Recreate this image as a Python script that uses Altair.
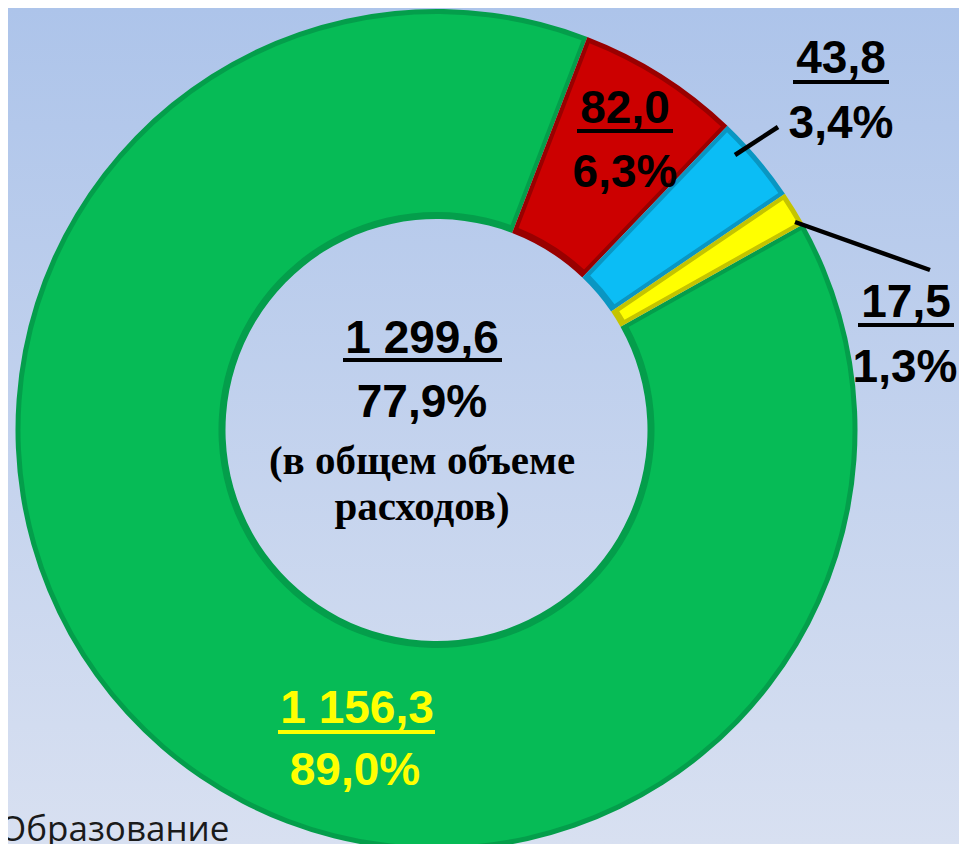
import math
import altair as alt
import pandas as pd

# ---- data ----
categories = ["Образование", "Социальная политика", "Культура", "Физическая культура и спорт"]
values = [1156.3, 82.0, 43.8, 17.5]
shares = [89.0, 6.3, 3.4, 1.3]
draw_order = [3, 0, 1, 2]
main_colors = ["#06bb56", "#cc0000", "#0bbdf5", "#ffff00"]
dark_colors = ["#049e4b", "#990000", "#0a96c2", "#c4c400"]
center_share = 77.9
legend_label = "Образование"


def fmt_num(v):
    return f"{v:,.1f}".replace(",", " ").replace(".", ",")


def fmt_pct(v):
    return f"{v:.1f}".replace(".", ",") + "%"


# ---- layout ----
W, H = 951, 836
CX, CY = 428.5, 422
R_OUT, R_IN = 421, 211
A0 = math.radians(21)

df = pd.DataFrame({
    "category": categories,
    "value": values,
    "order": draw_order,
    "main": main_colors,
    "dark": dark_colors,
})

theta = alt.Theta("value:Q", stack=True, scale=alt.Scale(range=[A0, A0 + 2 * math.pi]))

bg = alt.Chart(pd.DataFrame({"a": [0]})).mark_rect(
    fill=alt.LinearGradient(
        gradient="linear",
        stops=[alt.GradientStop(color="#adc4ea", offset=0),
               alt.GradientStop(color="#d8e0f1", offset=1)],
        x1=0, x2=0, y1=0, y2=1,
    )
).encode(x=alt.value(0), x2=alt.value(W), y=alt.value(0), y2=alt.value(H))

arc_dark = alt.Chart(df).mark_arc(radius=R_OUT, radius2=R_IN).encode(
    theta=theta,
    order=alt.Order("order:Q"),
    color=alt.Color("dark:N", scale=None),
    x=alt.value(CX), y=alt.value(CY),
)

arc_main = alt.Chart(df).mark_arc(radius=R_OUT - 5, radius2=R_IN + 7, padAngle=0.018).encode(
    theta=theta,
    order=alt.Order("order:Q"),
    color=alt.Color("main:N", scale=None),
    x=alt.value(CX), y=alt.value(CY),
)

# slice & centre labels (black, bold sans)
black_labels = pd.DataFrame({
    "text": [fmt_num(values[1]), fmt_pct(shares[1]),
             fmt_num(values[2]), fmt_pct(shares[2]),
             fmt_num(values[3]), fmt_pct(shares[3]),
             fmt_num(sum(values)), fmt_pct(center_share)],
    "x": [617, 617, 833, 833, 898, 897, 414, 414],
    "y": [115, 179, 65, 130, 309, 374, 345, 409],
})
t_black = alt.Chart(black_labels).mark_text(
    font="Liberation Sans", fontWeight="bold", fontSize=46, color="black",
    align="center", baseline="alphabetic",
).encode(x=alt.X("x:Q", scale=None), y=alt.Y("y:Q", scale=None), text="text:N")

yellow_labels = pd.DataFrame({
    "text": [fmt_num(values[0]), fmt_pct(shares[0])],
    "x": [349, 347],
    "y": [715, 777],
})
t_yellow = alt.Chart(yellow_labels).mark_text(
    font="Liberation Sans", fontWeight="bold", fontSize=46, color="#ffff00",
    align="center", baseline="alphabetic",
).encode(x=alt.X("x:Q", scale=None), y=alt.Y("y:Q", scale=None), text="text:N")

serif_labels = pd.DataFrame({
    "text": ["(в общем объеме", "расходов)"],
    "x": [414, 414],
    "y": [466, 512],
})
t_serif = alt.Chart(serif_labels).mark_text(
    font="Liberation Serif", fontWeight="bold", fontSize=41, color="black",
    align="center", baseline="alphabetic",
).encode(x=alt.X("x:Q", scale=None), y=alt.Y("y:Q", scale=None), text="text:N")

# underlines
ul_black = pd.DataFrame({
    "x": [569, 785, 850, 335],
    "x2": [665, 881, 946, 494],
    "y": [123, 74, 317, 352],
})
r_black = alt.Chart(ul_black).mark_rule(strokeWidth=4, color="black").encode(
    x=alt.X("x:Q", scale=None), x2="x2:Q", y=alt.Y("y:Q", scale=None))

ul_yellow = pd.DataFrame({"x": [270], "x2": [427], "y": [724]})
r_yellow = alt.Chart(ul_yellow).mark_rule(strokeWidth=4, color="#ffff00").encode(
    x=alt.X("x:Q", scale=None), x2="x2:Q", y=alt.Y("y:Q", scale=None))

# leader lines
leaders = pd.DataFrame({
    "x": [727, 787], "y": [147, 214],
    "x2": [770, 922], "y2": [119, 262],
})
r_lead = alt.Chart(leaders).mark_rule(strokeWidth=4.5, color="black").encode(
    x=alt.X("x:Q", scale=None), y=alt.Y("y:Q", scale=None), x2="x2:Q", y2="y2:Q")

legend = alt.Chart(pd.DataFrame({"text": [legend_label]})).mark_text(
    font="Open Sans", fontSize=35, color="#1a1a1a", align="left", baseline="alphabetic",
).encode(x=alt.value(-9), y=alt.value(833), text="text:N")

chart = alt.layer(
    bg, arc_dark, arc_main, t_black, t_yellow, t_serif, r_black, r_yellow, r_lead, legend
).properties(
    width=W, height=H, padding=0, autosize=alt.AutoSizeParams(type="none"),
    background="#d8e0f1",
).configure_view(stroke=None)

chart.save("out.html", embed_options={"renderer": "svg", "actions": False})
